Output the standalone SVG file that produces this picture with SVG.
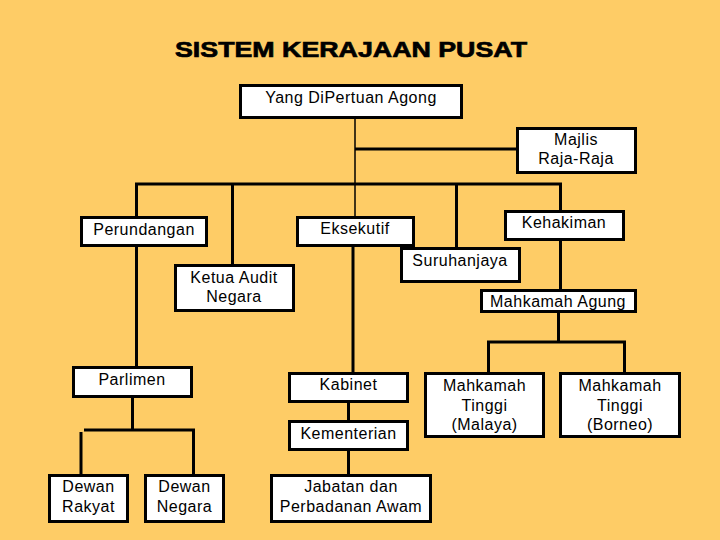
<svg xmlns="http://www.w3.org/2000/svg" width="720" height="540" viewBox="0 0 720 540">
<style>
.box{fill:#fff;stroke:#000;stroke-width:3}
.t{font-family:"Liberation Sans",Arial,sans-serif;font-size:16px;letter-spacing:0.5px;fill:#000;text-anchor:middle}
.c{stroke:#000;stroke-width:3;fill:none}
.thin{stroke:#000;stroke-width:1.5;fill:none}
</style>
<rect x="0" y="0" width="720" height="540" fill="#FECC66"/>
<text x="351" y="57" font-family="'Liberation Sans',Arial,sans-serif" font-weight="bold" font-size="22.5" stroke="#000" stroke-width="0.7" textLength="352" lengthAdjust="spacingAndGlyphs" text-anchor="middle">SISTEM KERAJAAN PUSAT</text>
<g id="connectors">
<path class="thin" d="M355,119 V216"/>
<path class="c" d="M355,149 H517"/>
<path class="c" d="M135,184 H562"/>
<path class="c" d="M136.5,184 V217 M232.5,184 V265 M456.5,184 V248 M560.5,184 V211"/>
<path class="c" d="M136.5,246 V367"/>
<path class="c" d="M353,246 V373"/>
<path class="c" d="M560.5,240 V290"/>
<path class="c" d="M558.5,312 V342 M487,342 H626 M488.5,342 V373 M624.5,342 V373"/>
<path class="c" d="M132.5,397 V430 M84,430 H195 M193.5,430 V475 M81,432 V475"/>
<path class="c" d="M348.5,402 V421 M348.5,450 V475"/>
</g>
<g id="yang"><rect class="box" x="240.5" y="85.5" width="221" height="32"/><text class="t" x="351" y="103">Yang DiPertuan Agong</text></g>
<g id="majlis"><rect class="box" x="517.5" y="128.5" width="118" height="44"/><text class="t" x="576" y="145">Majlis</text><text class="t" x="576" y="164">Raja-Raja</text></g>
<g id="perundangan"><rect class="box" x="81.5" y="217.5" width="125" height="28"/><text class="t" x="144" y="235">Perundangan</text></g>
<g id="eksekutif"><rect class="box" x="297.5" y="217.5" width="116" height="28"/><text class="t" x="355" y="234">Eksekutif</text></g>
<g id="kehakiman"><rect class="box" x="505.5" y="211.5" width="118" height="28"/><text class="t" x="564" y="228">Kehakiman</text></g>
<g id="ketua-audit"><rect class="box" x="175.5" y="265.5" width="118" height="45"/><text class="t" x="234" y="283">Ketua Audit</text><text class="t" x="234" y="302">Negara</text></g>
<g id="suruhanjaya"><rect class="box" x="401.5" y="248.5" width="118" height="33"/><text class="t" x="460" y="266">Suruhanjaya</text></g>
<g id="mahkamah-agung"><rect class="box" x="481.5" y="290.5" width="154" height="21"/><text class="t" x="558" y="307">Mahkamah Agung</text></g>
<g id="parlimen"><rect class="box" x="73.5" y="367.5" width="118" height="29"/><text class="t" x="132" y="385">Parlimen</text></g>
<g id="kabinet"><rect class="box" x="289.5" y="373.5" width="118" height="28"/><text class="t" x="348.5" y="390">Kabinet</text></g>
<g id="kementerian"><rect class="box" x="289.5" y="421.5" width="118" height="28"/><text class="t" x="348.5" y="439">Kementerian</text></g>
<g id="mt-malaya"><rect class="box" x="425.5" y="373.5" width="118" height="63"/><text class="t" x="484.5" y="391">Mahkamah</text><text class="t" x="484.5" y="411">Tinggi</text><text class="t" x="484.5" y="430">(Malaya)</text></g>
<g id="mt-borneo"><rect class="box" x="560.5" y="373.5" width="119" height="63"/><text class="t" x="620" y="391">Mahkamah</text><text class="t" x="620" y="411">Tinggi</text><text class="t" x="620" y="430">(Borneo)</text></g>
<g id="dewan-rakyat"><rect class="box" x="49.5" y="475.5" width="78" height="46"/><text class="t" x="88.5" y="492">Dewan</text><text class="t" x="88.5" y="512">Rakyat</text></g>
<g id="dewan-negara"><rect class="box" x="145.5" y="475.5" width="78" height="46"/><text class="t" x="184.5" y="492">Dewan</text><text class="t" x="184.5" y="512">Negara</text></g>
<g id="jabatan"><rect class="box" x="271.5" y="475.5" width="159" height="46"/><text class="t" x="351" y="492">Jabatan dan</text><text class="t" x="351" y="512">Perbadanan Awam</text></g>
</svg>
